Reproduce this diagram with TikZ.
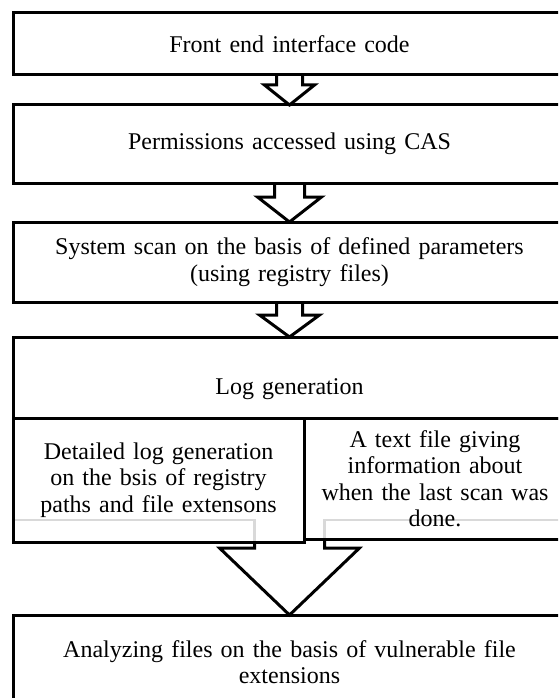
\documentclass[tikz,border=0pt]{standalone}
\usepackage{fontspec}
\setmainfont{Liberation Serif}[WordSpace=1.35]
\usetikzlibrary{calc}
\begin{document}
\begin{tikzpicture}[x=1pt,y=-1pt,
  box/.style={draw=black, line width=3pt, rectangle, inner sep=0pt, outer sep=0pt,
    anchor=north west, font=\fontsize{24}{26.5}\selectfont, align=center},
  lbl/.style={inner sep=0pt, font=\fontsize{24}{26.5}\selectfont, align=center},
  blockarrow/.style={draw=black, line width=3pt, line join=miter},
  ghost/.style={draw=black!15, line width=2.2pt}]
\useasboundingbox (0,0) rectangle (558,698);
\begin{scope}
\clip (0,0) rectangle (558,698);
% ghost outline behind the lower boxes
\coordinate (g1) at (13,520);
\coordinate (g2) at (254.5,520);
\coordinate (g3) at (254.5,542);
\coordinate (g4) at (566,520);
\coordinate (g5) at (324.5,520);
\coordinate (g6) at (324.5,539);
\draw[ghost] (g1) -- (g2) -- (g3);
\draw[ghost] (g4) -- (g5) -- (g6);

\node[box, minimum width=553pt, minimum height=62pt] (b1) at (13,13) {Front end interface code};
\node[box, minimum width=553pt, minimum height=78pt] (b2) at (13,105) {Permissions accessed using CAS};
\node[box, minimum width=553pt, minimum height=80pt] (b3) at (13,222) {System scan on the basis of defined parameters\\(using registry files)};
\node[box, minimum width=553pt, minimum height=81pt] (b4) at (13,337) {};
\node[lbl] (t4) at ($(b4.center)+(0,12)$) {Log generation};
\node[box, minimum width=291pt, minimum height=124pt] (s1) at (13,418) {Detailed log generation\\on the bsis of registry\\paths and file extensons};
\node[box, minimum width=262pt, minimum height=121pt] (s2) at (304,418) {A text file giving\\information about\\when the last scan was\\done.};
\node[box, minimum width=553pt, minimum height=94pt] (b5) at (13,615) {Analyzing files on the basis of vulnerable file\\extensions};

% block arrows
\draw[blockarrow] ($(b1.south)+(-13,0)$) -- ++(0,10) -- ++(-12,0) -- (b2.north)
   -- ($(b1.south)+(25,10)$) -- ++(-12,0) -- ++(0,-10);
\draw[blockarrow] ($(b2.south)+(-15,0)$) -- ++(0,14) -- ++(-17,0) -- (b3.north)
   -- ($(b2.south)+(32,14)$) -- ++(-17,0) -- ++(0,-14);
\draw[blockarrow] ($(b3.south)+(-13,0)$) -- ++(0,13) -- ++(-17,0) -- (b4.north)
   -- ($(b3.south)+(30,13)$) -- ++(-17,0) -- ++(0,-13);
\coordinate (n1) at ($(b5.north)+(-35,-73)$);
\coordinate (n6) at ($(b5.north)+(35,-76)$);
\draw[blockarrow] (n1) -- ++(0,6) -- ++(-35,0) -- (b5.north)
   -- ($(b5.north)+(70,-67)$) -- ++(-35,0) -- (n6);
\end{scope}
\end{tikzpicture}
\end{document}
